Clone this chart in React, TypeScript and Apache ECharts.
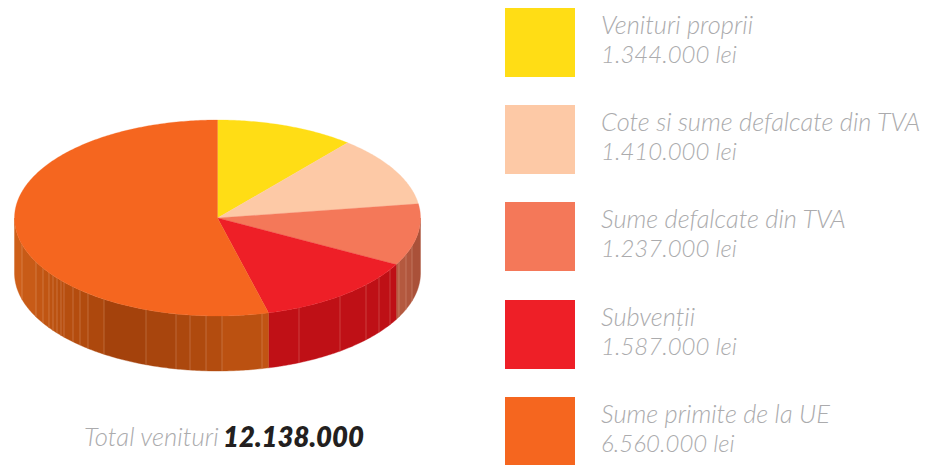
import React, { useEffect, useRef } from "react";
import * as echarts from "echarts";

const categories = ["Venituri proprii", "Cote si sume defalcate din TVA", "Sume defalcate din TVA", "Subvenții", "Sume primite de la UE"];
const values = [1344000, 1410000, 1237000, 1587000, 6560000];
const valueLabels = ["1.344.000 lei", "1.410.000 lei", "1.237.000 lei", "1.587.000 lei", "6.560.000 lei"];
const totalLabel = "Total venituri";
const totalValue = "12.138.000";
const topColors = ["#FFDD15", "#FDC9A6", "#F47859", "#EE1F27", "#F5661F"];
const legendTops = [8, 105, 202, 300, 397];
const wallLineX = [22, 36, 43, 49, 53, 57, 61, 64, 73, 80, 88, 104, 146, 176, 190, 206, 222, 262, 299, 340, 366, 379, 390, 399, 406, 412];
const orangeStops: [number, number[]][] = [
  [14, [207, 96, 26]], [60, [185, 80, 15]], [130, [162, 65, 12]], [200, [175, 74, 14]], [269, [194, 85, 19]],
];
const salmonStops: [number, number[]][] = [[396, [184, 92, 66]], [421, [168, 80, 56]]];
const redStops: [number, number[]][] = [[269, [192, 16, 22]], [396, [190, 16, 22]]];
const wallStops = [orangeStops, orangeStops, salmonStops, redStops, orangeStops];

const CX = 217.5, CY = 218, RX = 203, RY = 98, DEPTH = 55;
const FONT = "Lato";

const total = values.reduce((a, b) => a + b, 0);
const px = (t: number) => CX + RX * Math.sin(t);
const py = (t: number) => CY - RY * Math.cos(t);

function arcPoints(a: number, b: number, dy = 0) {
  const n = Math.max(2, Math.ceil(Math.abs(b - a) / 0.012));
  const pts: number[][] = [];
  for (let i = 0; i <= n; i++) {
    const t = a + ((b - a) * i) / n;
    pts.push([px(t), py(t) + dy]);
  }
  return pts;
}

function wallColor(stops: [number, number[]][], x: number) {
  let c = stops[0][1];
  if (x >= stops[stops.length - 1][0]) c = stops[stops.length - 1][1];
  else
    for (let i = 0; i < stops.length - 1; i++) {
      if (x >= stops[i][0] && x <= stops[i + 1][0]) {
        const f = (x - stops[i][0]) / (stops[i + 1][0] - stops[i][0]);
        c = stops[i][1].map((v, k) => v + (stops[i + 1][1][k] - v) * f);
        break;
      }
    }
  return `rgb(${c.map((v) => Math.round(v)).join(",")})`;
}

function renderSlice(params: any, api: any) {
  const i = params.dataIndex;
  const before = values.slice(0, i).reduce((a, b) => a + b, 0);
  const a0 = (before / total) * Math.PI * 2;
  const a1 = ((before + api.value(0)) / total) * Math.PI * 2;
  const children: any[] = [];
  const s = Math.max(a0, Math.PI / 2);
  const e = Math.min(a1, (3 * Math.PI) / 2);
  if (e > s) {
    const inner = wallLineX
      .map((x) => Math.PI - Math.asin((x - CX) / RX))
      .filter((t) => t > s + 0.001 && t < e - 0.001)
      .sort((p, q) => p - q);
    const bounds = [s, ...inner, e];
    for (let k = 0; k < bounds.length - 1; k++) {
      const top = arcPoints(bounds[k], bounds[k + 1]);
      const bottom = arcPoints(bounds[k + 1], bounds[k], DEPTH);
      const mid = (bounds[k] + bounds[k + 1]) / 2;
      const color = wallColor(wallStops[i], px(mid));
      children.push({
        type: "polygon",
        shape: { points: [...top, ...bottom] },
        style: { fill: color, stroke: color, lineWidth: 0.4 },
      });
    }
    inner.forEach((t) => {
      children.push({
        type: "line",
        shape: { x1: px(t), y1: py(t), x2: px(t), y2: py(t) + DEPTH },
        style: { stroke: "rgba(255,225,205,0.34)", lineWidth: 0.7 },
      });
    });
  }
  children.push({
    type: "polygon",
    z2: 10,
    shape: { points: [[CX, CY], ...arcPoints(a0, a1)] },
    style: { fill: topColors[i], stroke: topColors[i], lineWidth: 0.3 },
  });
  return { type: "group", children };
}

export default function App() {
  const ref = useRef<HTMLDivElement>(null);
  useEffect(() => {
    const chart = echarts.init(ref.current!, undefined, { renderer: "svg" });
    const graphic: any[] = [];
    categories.forEach((name, i) => {
      graphic.push({ type: "rect", shape: { x: 505, y: legendTops[i], width: 70, height: 69 }, style: { fill: topColors[i] } });
      graphic.push({
        type: "text",
        x: 601,
        y: legendTops[i] + 16,
        style: { text: name, fill: "#ababad", font: `italic 300 25.4px ${FONT}`, textVerticalAlign: "middle" },
      });
      graphic.push({
        type: "text",
        x: 601,
        y: legendTops[i] + 45,
        style: { text: valueLabels[i], fill: "#ababad", font: `italic 300 24px ${FONT}`, textVerticalAlign: "middle" },
      });
    });
    graphic.push({
      type: "text",
      x: 84,
      y: 436,
      style: { text: totalLabel, fill: "#ababad", font: `italic 300 25.7px ${FONT}`, textVerticalAlign: "middle" },
    });
    graphic.push({
      type: "text",
      x: 223,
      y: 436,
      style: { text: totalValue, fill: "#231f20", font: `italic 800 27.5px ${FONT}`, textVerticalAlign: "middle" },
    });
    chart.setOption({
      animation: false,
      backgroundColor: "#fff",
      graphic,
      series: [
        {
          type: "custom",
          coordinateSystem: "none",
          renderItem: renderSlice,
          data: categories.map((name, i) => ({ name, value: [values[i]] })),
          silent: true,
        },
      ],
    });
    return () => chart.dispose();
  }, []);
  return <div ref={ref} style={{ position: "absolute", left: 0, top: 0, width: 940, height: 465 }} />;
}
